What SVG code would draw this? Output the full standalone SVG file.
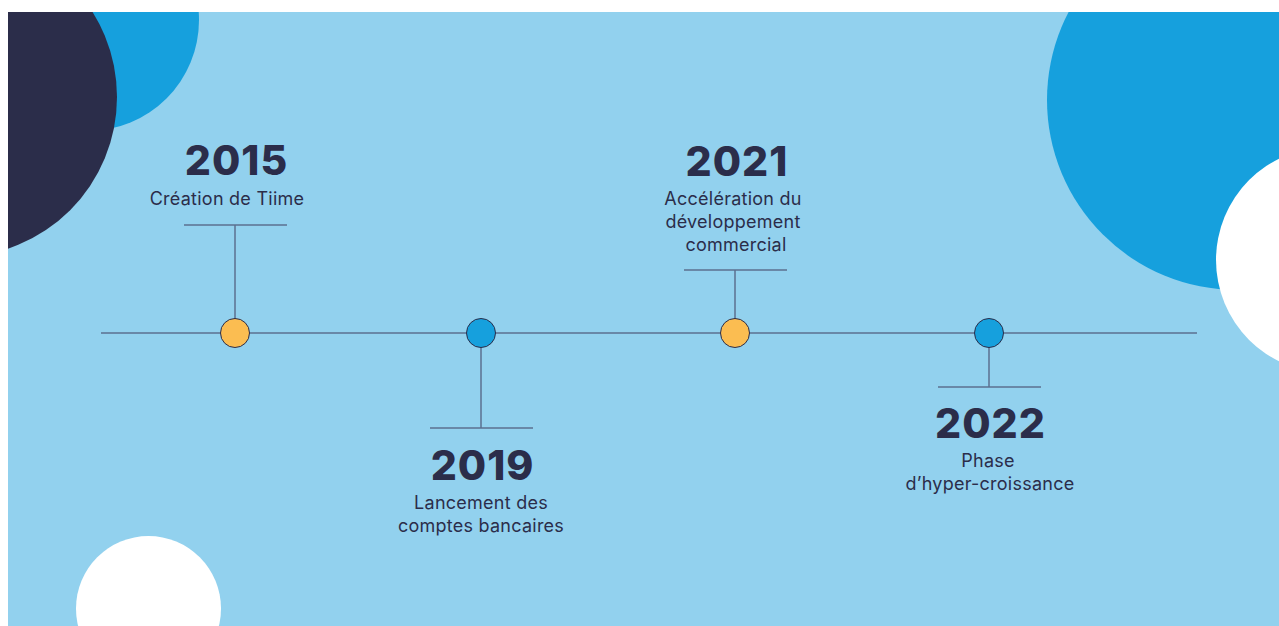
<svg xmlns="http://www.w3.org/2000/svg" width="1279" height="626" viewBox="0 0 1279 626">
  <defs>
    <clipPath id="bg-clip"><rect x="8" y="12" width="1271" height="614"/></clipPath>
    <style>
      .line { stroke: #5B6F8F; stroke-width: 1.5; fill: none; }
      .dot-y { fill: #FBBD51; stroke: #2B2D4A; stroke-width: 1; }
      .dot-b { fill: #16A0DD; stroke: #2B2D4A; stroke-width: 1; }
      .year { font-family: Inter, "Liberation Sans", sans-serif; font-weight: 800; font-size: 41px; letter-spacing: 1px; fill: #2B2D4A; text-anchor: middle; }
      .sub { font-family: Inter, "Liberation Sans", sans-serif; font-weight: 400; font-size: 18px; letter-spacing: 0.25px; fill: #2B2D4A; text-anchor: middle; }
    </style>
  </defs>
  <rect width="1279" height="626" fill="#FFFFFF"/>
  <g id="background" clip-path="url(#bg-clip)">
    <rect x="8" y="12" width="1271" height="614" fill="#92D1EE"/>
    <circle cx="88" cy="20" r="111" fill="#16A0DD"/>
    <circle cx="-43" cy="97" r="160" fill="#2B2D4A"/>
    <circle cx="1237" cy="100" r="190" fill="#16A0DD"/>
    <circle cx="1329" cy="260" r="113" fill="#FFFFFF"/>
    <circle cx="148.5" cy="608.5" r="72.5" fill="#FFFFFF"/>
  </g>
  <g id="connectors">
    <line class="line" x1="101" y1="333" x2="1197" y2="333"/>
    <line class="line" x1="235" y1="225" x2="235" y2="319"/>
    <line class="line" x1="184" y1="225" x2="287" y2="225"/>
    <line class="line" x1="481" y1="347" x2="481" y2="428"/>
    <line class="line" x1="430" y1="428" x2="533" y2="428"/>
    <line class="line" x1="735" y1="270" x2="735" y2="319"/>
    <line class="line" x1="684" y1="270" x2="787" y2="270"/>
    <line class="line" x1="989" y1="347" x2="989" y2="387"/>
    <line class="line" x1="938" y1="387" x2="1041" y2="387"/>
  </g>
  <g id="node-2015">
    <circle class="dot-y" cx="235" cy="333" r="14.5"/>
    <text class="year" x="236.5" y="175">2015</text>
    <text class="sub" x="227" y="205">Création de Tiime</text>
  </g>
  <g id="node-2019">
    <circle class="dot-b" cx="481" cy="333" r="14.5"/>
    <text class="year" x="482.5" y="480">2019</text>
    <text class="sub" x="481" y="509">Lancement des</text>
    <text class="sub" x="481" y="532">comptes bancaires</text>
  </g>
  <g id="node-2021">
    <circle class="dot-y" cx="735" cy="333" r="14.5"/>
    <text class="year" x="737" y="176">2021</text>
    <text class="sub" x="733" y="205">Accélération du</text>
    <text class="sub" x="733" y="228">développement</text>
    <text class="sub" x="736" y="251">commercial</text>
  </g>
  <g id="node-2022">
    <circle class="dot-b" cx="989" cy="333" r="14.5"/>
    <text class="year" x="990.5" y="438">2022</text>
    <text class="sub" x="988" y="467">Phase</text>
    <text class="sub" x="990" y="490">d’hyper-croissance</text>
  </g>
</svg>
